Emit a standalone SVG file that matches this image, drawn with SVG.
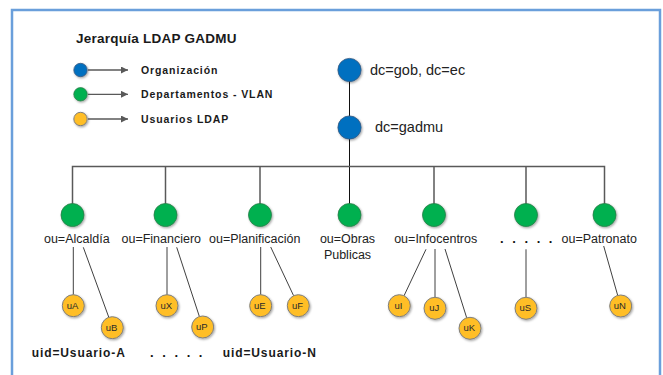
<svg xmlns="http://www.w3.org/2000/svg" width="663" height="375" viewBox="0 0 663 375">
<defs>
<filter id="sh" x="-30%" y="-30%" width="160%" height="160%">
<feDropShadow dx="1" dy="1.2" stdDeviation="0.8" flood-color="#000" flood-opacity="0.35"/>
</filter>
<marker id="arr" viewBox="0 0 10 10" refX="10" refY="5" markerWidth="8" markerHeight="7" markerUnits="userSpaceOnUse" orient="auto">
<path d="M0,0 L10,5 L0,10 Z" fill="#595959"/>
</marker>
<style>
.org{fill:#0070C0;stroke:#3a5a80;stroke-width:0.8;filter:url(#sh)}
.dep{fill:#00B050;stroke:#2e7d4a;stroke-width:0.8;filter:url(#sh)}
.usr{fill:#FFBE25;stroke:#7f7f7f;stroke-width:1;filter:url(#sh)}
.lbl{font-family:"Liberation Sans",Arial,sans-serif;font-size:12.5px;fill:#222;text-anchor:middle}
.big{font-family:"Liberation Sans",Arial,sans-serif;font-size:14.5px;fill:#222}
.ut{font-family:"Liberation Sans",Arial,sans-serif;font-size:9.5px;fill:#2a2a2a;text-anchor:middle}
.leg{font-family:"Liberation Sans",Arial,sans-serif;font-size:10.5px;font-weight:bold;fill:#1a1a1a;letter-spacing:0.9px}
.bold{font-family:"Liberation Sans",Arial,sans-serif;font-size:12px;font-weight:bold;fill:#1a1a1a;letter-spacing:0.9px}
.dots{font-family:"Liberation Sans",Arial,sans-serif;font-size:13px;font-weight:bold;fill:#111;letter-spacing:8.6px}
.con{stroke:#404040;stroke-width:1;fill:none}
.bus{stroke:#595959;stroke-width:1.5;fill:none}
.arl{stroke:#595959;stroke-width:1.3;fill:none}
</style>
</defs>
<rect x="0" y="0" width="663" height="375" fill="#ffffff"/>
<rect x="12" y="10" width="648" height="380" fill="none" stroke="#6A9FDB" stroke-width="2.5"/>

<g id="legend">
<text x="76" y="43" font-family="Liberation Sans, Arial, sans-serif" font-size="13.5" font-weight="bold" fill="#1a1a1a" letter-spacing="0.25">Jerarquía LDAP GADMU</text>
<circle cx="80.5" cy="70" r="6.7" class="org"/>
<line x1="88" y1="70" x2="128" y2="70" class="arl" marker-end="url(#arr)"/>
<text x="141" y="73.5" class="leg">Organización</text>
<circle cx="80.5" cy="94.3" r="6.7" class="dep"/>
<line x1="88" y1="94.3" x2="128" y2="94.3" class="arl" marker-end="url(#arr)"/>
<text x="141" y="98" class="leg">Departamentos - VLAN</text>
<circle cx="80.5" cy="119" r="6.7" class="usr"/>
<line x1="88" y1="119" x2="128" y2="119" class="arl" marker-end="url(#arr)"/>
<text x="141" y="122.5" class="leg">Usuarios LDAP</text>
</g>

<g id="connectors">
<line x1="349.5" y1="81" x2="349.5" y2="116" stroke="#111" stroke-width="1"/>
<line x1="349.5" y1="139" x2="349.5" y2="204" stroke="#111" stroke-width="1"/>
<polyline points="72.5,204 72.5,166.5 604.5,166.5 604.5,204" class="bus"/>
<line x1="165.5" y1="166.5" x2="165.5" y2="204" class="bus"/>
<line x1="260" y1="166.5" x2="260" y2="204" class="bus"/>
<line x1="434" y1="166.5" x2="434" y2="204" class="bus"/>
<line x1="526" y1="166.5" x2="526" y2="204" class="bus"/>
<line x1="73.3" y1="247" x2="73.3" y2="294.7" class="con"/>
<line x1="83.3" y1="247.3" x2="108.8" y2="317.3" class="con"/>
<line x1="167" y1="247" x2="167" y2="294.7" class="con"/>
<line x1="176.7" y1="247.3" x2="199.4" y2="316.6" class="con"/>
<line x1="260.7" y1="247" x2="260.7" y2="294.7" class="con"/>
<line x1="270.7" y1="247" x2="293.6" y2="295.7" class="con"/>
<line x1="426" y1="249.3" x2="404" y2="295.8" class="con"/>
<line x1="435" y1="249" x2="435" y2="297.3" class="con"/>
<line x1="445" y1="249" x2="466.7" y2="317.8" class="con"/>
<line x1="526" y1="249.3" x2="526" y2="297.3" class="con"/>
<line x1="603.7" y1="246" x2="617.7" y2="295.4" class="con"/>
</g>

<g id="org-gob">
<circle cx="349.5" cy="70" r="11.6" class="org"/>
<text x="370" y="75" class="big">dc=gob, dc=ec</text>
</g>
<g id="org-gadmu">
<circle cx="349.5" cy="127.5" r="11.6" class="org"/>
<text x="375" y="132" class="big">dc=gadmu</text>
</g>

<g id="ou-alcaldia">
<circle cx="72.5" cy="215" r="11.5" class="dep"/>
<text x="76.8" y="243" class="lbl">ou=Alcaldía</text>
</g>
<g id="ou-financiero">
<circle cx="165.5" cy="215" r="11.5" class="dep"/>
<text x="161.3" y="243" class="lbl">ou=Financiero</text>
</g>
<g id="ou-planificacion">
<circle cx="260" cy="215" r="11.5" class="dep"/>
<text x="254.7" y="243" class="lbl">ou=Planificación</text>
</g>
<g id="ou-obras">
<circle cx="349.5" cy="215" r="11.5" class="dep"/>
<text x="347.5" y="243" class="lbl">ou=Obras</text>
<text x="347.5" y="258.5" class="lbl">Publicas</text>
</g>
<g id="ou-infocentros">
<circle cx="434" cy="215" r="11.5" class="dep"/>
<text x="435.7" y="243" class="lbl">ou=Infocentros</text>
</g>
<g id="ou-dots">
<circle cx="526" cy="215" r="11.5" class="dep"/>
<text x="500" y="243" class="dots">.....</text>
</g>
<g id="ou-patronato">
<circle cx="604.5" cy="215" r="11.5" class="dep"/>
<text x="599.2" y="243" class="lbl">ou=Patronato</text>
</g>

<g id="u-A"><circle cx="73.3" cy="305.7" r="11" class="usr"/><text x="72.5" y="308.8" class="ut">uA</text></g>
<g id="u-B"><circle cx="112.3" cy="327.7" r="11" class="usr"/><text x="111.5" y="330.8" class="ut">uB</text></g>
<g id="u-X"><circle cx="167" cy="305.7" r="11" class="usr"/><text x="166.2" y="308.8" class="ut">uX</text></g>
<g id="u-P"><circle cx="202.7" cy="327" r="11" class="usr"/><text x="201.9" y="330.1" class="ut">uP</text></g>
<g id="u-E"><circle cx="260.7" cy="305.7" r="11" class="usr"/><text x="259.9" y="308.8" class="ut">uE</text></g>
<g id="u-F"><circle cx="298.3" cy="305.7" r="11" class="usr"/><text x="297.5" y="308.8" class="ut">uF</text></g>
<g id="u-I"><circle cx="399.3" cy="305.7" r="11" class="usr"/><text x="398.5" y="308.8" class="ut">uI</text></g>
<g id="u-J"><circle cx="435" cy="308.3" r="11" class="usr"/><text x="434.2" y="311.4" class="ut">uJ</text></g>
<g id="u-K"><circle cx="470" cy="328.3" r="11" class="usr"/><text x="469.2" y="331.4" class="ut">uK</text></g>
<g id="u-S"><circle cx="526" cy="308.3" r="11" class="usr"/><text x="525.2" y="311.4" class="ut">uS</text></g>
<g id="u-N"><circle cx="620.7" cy="306" r="11" class="usr"/><text x="619.9" y="309.1" class="ut">uN</text></g>

<g id="uid-labels">
<text x="31.7" y="357" class="bold">uid=Usuario-A</text>
<text x="150" y="357" class="dots">.....</text>
<text x="222.7" y="357" class="bold">uid=Usuario-N</text>
</g>
</svg>
